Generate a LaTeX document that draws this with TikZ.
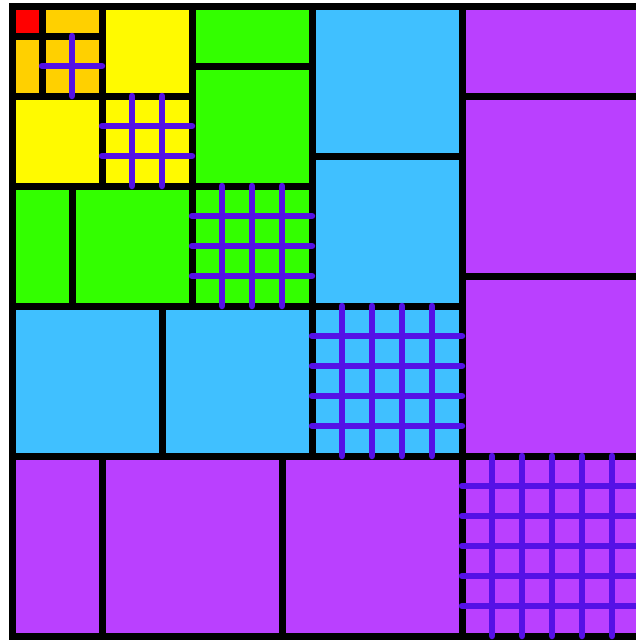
\documentclass[tikz,border=0pt]{standalone}
\definecolor{cred}{RGB}{255,0,0}
\definecolor{corange}{RGB}{255,208,0}
\definecolor{cyellow}{RGB}{255,250,0}
\definecolor{cgreen}{RGB}{51,255,0}
\definecolor{cblue}{RGB}{64,192,255}
\definecolor{cpurple}{RGB}{186,64,255}
\definecolor{cgrid}{RGB}{85,17,230}
\begin{document}
\begin{tikzpicture}[x=1pt,y=-1pt,
  cell/.style={draw=black,line width=7pt},
  gridline/.style={draw=cgrid,line width=6.5pt,line cap=round}]
\useasboundingbox (0,0) rectangle (636,641);
\clip (0,0) rectangle (636,641);
\fill[white] (0,0) rectangle (636,641);
\begin{scope}[shift={(12pt,-6pt)},x=30pt,y=-30pt]
  \foreach \a/\b/\c/\d/\col in {
    0/0/1/1/cred,
    1/0/3/1/corange, 0/1/1/3/corange, 1/1/3/3/corange,
    3/0/6/3/cyellow, 0/3/3/6/cyellow, 3/3/6/6/cyellow,
    6/0/10/2/cgreen, 6/2/10/6/cgreen, 0/6/2/10/cgreen, 2/6/6/10/cgreen, 6/6/10/10/cgreen,
    10/0/15/5/cblue, 10/5/15/10/cblue, 0/10/5/15/cblue, 5/10/10/15/cblue, 10/10/15/15/cblue,
    15/0/21/3/cpurple, 15/3/21/9/cpurple, 15/9/21/15/cpurple,
    0/15/3/21/cpurple, 3/15/9/21/cpurple, 9/15/15/21/cpurple, 15/15/21/21/cpurple}
  {\draw[cell,fill=\col] (\a,\b) rectangle (\c,\d);}
  \foreach \a/\b in {1/3,3/6,6/10,10/15,15/21}{
    \pgfmathtruncatemacro\s{\a+1}
    \pgfmathtruncatemacro\e{\b-1}
    \foreach \i in {\s,...,\e}{
      \draw[gridline] (\i,\a) -- (\i,\b);
      \draw[gridline] (\a,\i) -- (\b,\i);
    }
  }
\end{scope}
\end{tikzpicture}
\end{document}
